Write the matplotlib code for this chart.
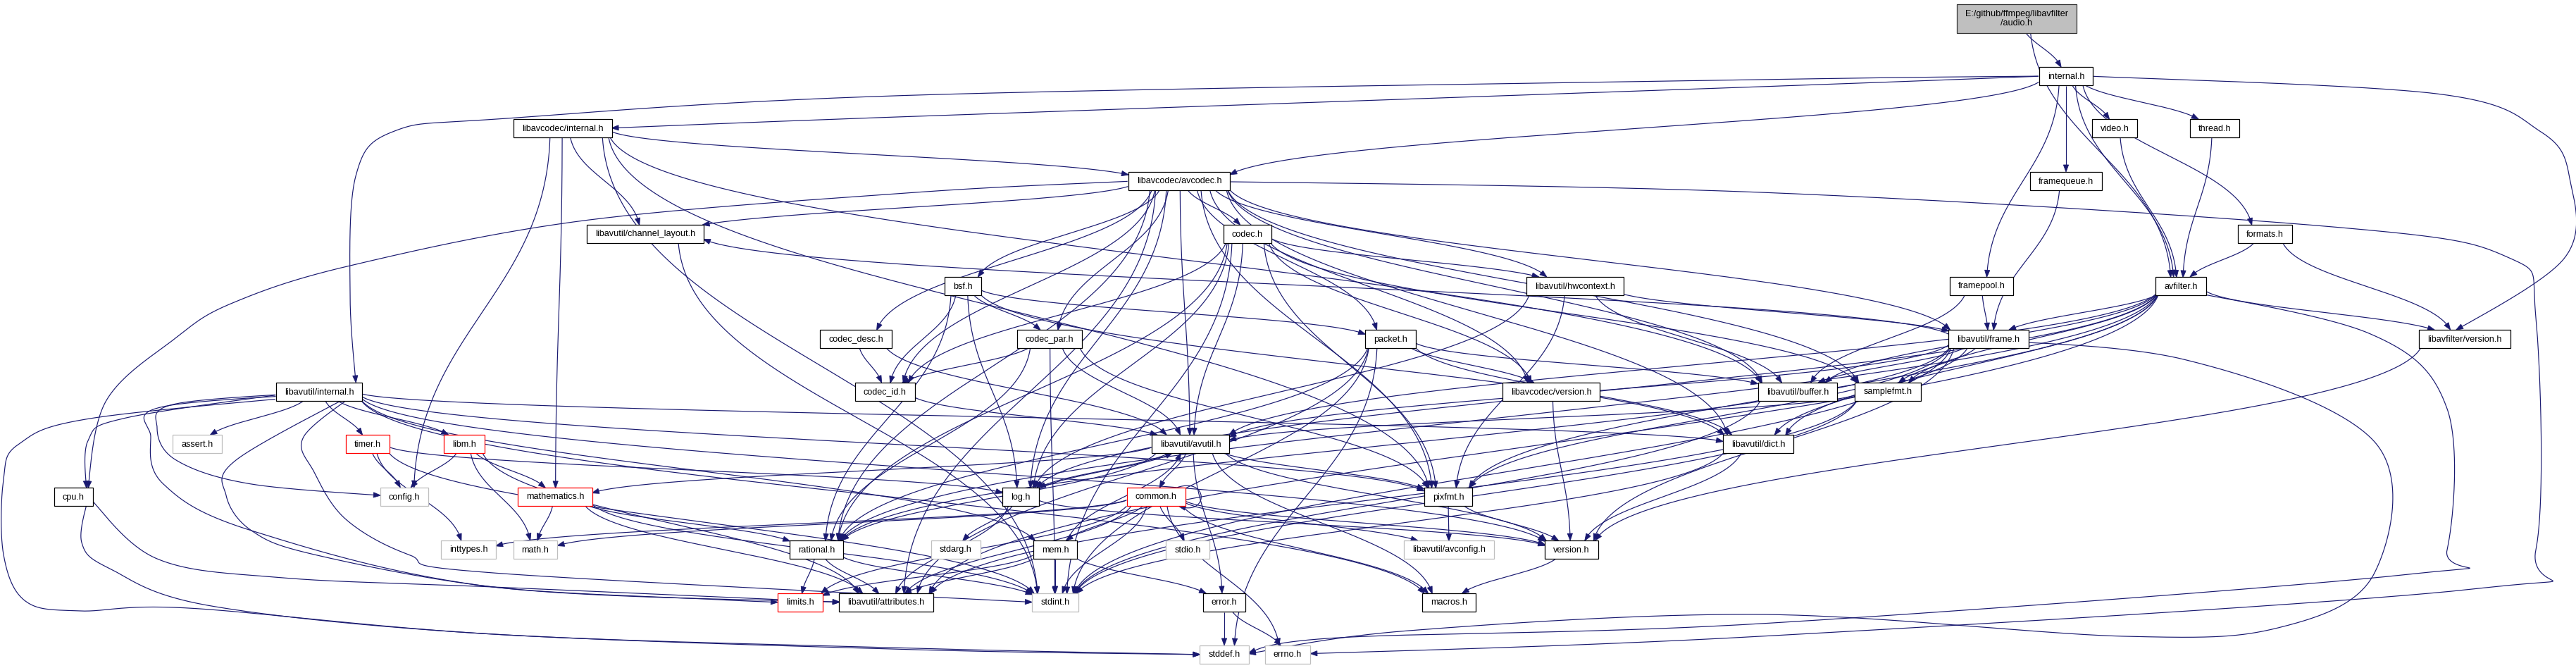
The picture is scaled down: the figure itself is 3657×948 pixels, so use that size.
import numpy as np
import matplotlib
matplotlib.use('Agg')
import matplotlib.pyplot as plt
from matplotlib.patches import Rectangle, Polygon

ROOT = 'E:/github/ffmpeg/libavfilter\n/audio.h'

# include graph: file -> headers it includes
includes = {
    ROOT: ['internal.h', 'avfilter.h'],
    'internal.h': ['libavutil/internal.h', 'libavcodec/avcodec.h', 'libavcodec/internal.h', 'avfilter.h',
                   'formats.h', 'framepool.h', 'framequeue.h', 'thread.h', 'libavfilter/version.h', 'video.h'],
    'video.h': ['avfilter.h'],
    'thread.h': ['avfilter.h'],
    'framequeue.h': ['libavutil/frame.h'],
    'framepool.h': ['libavutil/buffer.h', 'libavutil/frame.h'],
    'formats.h': ['avfilter.h', 'libavfilter/version.h'],
    'avfilter.h': ['stddef.h', 'libavutil/attributes.h', 'libavutil/avutil.h', 'libavutil/buffer.h',
                   'libavutil/dict.h', 'libavutil/frame.h', 'log.h', 'samplefmt.h', 'pixfmt.h', 'rational.h',
                   'libavfilter/version.h'],
    'libavfilter/version.h': ['version.h'],
    'libavcodec/internal.h': ['stdint.h', 'libavutil/buffer.h', 'libavutil/channel_layout.h', 'mathematics.h',
                              'pixfmt.h', 'libavcodec/avcodec.h', 'config.h'],
    'libavcodec/avcodec.h': ['errno.h', 'samplefmt.h', 'libavutil/attributes.h', 'libavutil/avutil.h',
                             'libavutil/buffer.h', 'cpu.h', 'libavutil/channel_layout.h', 'libavutil/dict.h',
                             'libavutil/frame.h', 'libavutil/hwcontext.h', 'log.h', 'pixfmt.h', 'rational.h',
                             'bsf.h', 'codec.h', 'codec_desc.h', 'codec_par.h', 'codec_id.h', 'packet.h',
                             'libavcodec/version.h'],
    'codec.h': ['stdint.h', 'libavutil/avutil.h', 'libavutil/hwcontext.h', 'log.h', 'pixfmt.h', 'rational.h',
                'samplefmt.h', 'codec_id.h', 'libavcodec/version.h'],
    'bsf.h': ['libavutil/dict.h', 'log.h', 'rational.h', 'codec_id.h', 'codec_par.h', 'packet.h'],
    'codec_desc.h': ['libavutil/avutil.h', 'codec_id.h'],
    'codec_par.h': ['stdint.h', 'libavutil/avutil.h', 'rational.h', 'pixfmt.h', 'codec_id.h'],
    'packet.h': ['stddef.h', 'stdint.h', 'libavutil/attributes.h', 'libavutil/buffer.h', 'libavutil/dict.h',
                 'rational.h', 'libavcodec/version.h'],
    'libavutil/hwcontext.h': ['libavutil/buffer.h', 'libavutil/frame.h', 'log.h', 'pixfmt.h'],
    'libavutil/frame.h': ['stddef.h', 'stdint.h', 'libavutil/avutil.h', 'libavutil/buffer.h',
                          'libavutil/channel_layout.h', 'libavutil/dict.h', 'rational.h', 'samplefmt.h',
                          'pixfmt.h', 'version.h'],
    'libavutil/internal.h': ['limits.h', 'stdint.h', 'stddef.h', 'assert.h', 'config.h', 'libavutil/attributes.h',
                             'timer.h', 'cpu.h', 'libavutil/dict.h', 'macros.h', 'mem.h', 'pixfmt.h', 'version.h',
                             'libm.h'],
    'codec_id.h': ['libavutil/avutil.h'],
    'libavcodec/version.h': ['version.h'],
    'libavutil/buffer.h': ['stdint.h'],
    'samplefmt.h': ['stdint.h', 'libavutil/avutil.h', 'libavutil/attributes.h'],
    'libavutil/channel_layout.h': ['stdint.h'],
    'timer.h': ['config.h', 'inttypes.h', 'stdint.h', 'log.h'],
    'libm.h': ['math.h', 'config.h', 'libavutil/attributes.h', 'mathematics.h'],
    'libavutil/avutil.h': ['common.h', 'error.h', 'rational.h', 'version.h', 'macros.h', 'mathematics.h',
                           'log.h', 'pixfmt.h'],
    'libavutil/dict.h': ['stdint.h', 'version.h'],
    'cpu.h': ['stddef.h', 'libavutil/attributes.h'],
    'mathematics.h': ['stdint.h', 'math.h', 'libavutil/attributes.h', 'rational.h'],
    'log.h': ['stdarg.h', 'libavutil/avutil.h', 'libavutil/attributes.h', 'version.h'],
    'common.h': ['errno.h', 'inttypes.h', 'limits.h', 'math.h', 'stdint.h', 'stdio.h', 'libavutil/attributes.h',
                 'macros.h', 'version.h', 'libavutil/avconfig.h', 'mem.h', 'common.h'],
    'pixfmt.h': ['libavutil/avconfig.h', 'version.h'],
    'rational.h': ['stdint.h', 'limits.h', 'libavutil/attributes.h'],
    'mem.h': ['limits.h', 'stdint.h', 'libavutil/attributes.h', 'error.h', 'libavutil/avutil.h'],
    'version.h': ['macros.h'],
    'error.h': ['errno.h', 'stddef.h'],
}

missing_files = ['assert.h', 'config.h', 'inttypes.h', 'math.h', 'stdarg.h', 'stdio.h',
                 'libavutil/avconfig.h', 'stdint.h', 'stddef.h', 'errno.h']
truncated_files = ['timer.h', 'libm.h', 'mathematics.h', 'common.h', 'limits.h']

# box centres (pixels)
layout = {
    ROOT: (2863, 26),
    'internal.h': (2933, 108),
    'libavcodec/internal.h': (799, 182), 'video.h': (3002, 182), 'thread.h': (3144, 182),
    'libavcodec/avcodec.h': (1674, 257), 'framequeue.h': (2933, 257),
    'libavutil/channel_layout.h': (916, 332), 'codec.h': (1771, 332), 'formats.h': (3215, 332),
    'bsf.h': (1367, 406), 'libavutil/hwcontext.h': (2236, 406), 'framepool.h': (2813, 406),
    'avfilter.h': (3096, 406),
    'codec_desc.h': (1215, 481), 'codec_par.h': (1490, 481), 'packet.h': (1974, 481),
    'libavutil/frame.h': (2823, 481), 'libavfilter/version.h': (3499, 481),
    'libavutil/internal.h': (453, 556), 'codec_id.h': (1256, 556), 'libavcodec/version.h': (2202, 556),
    'libavutil/buffer.h': (2552, 556), 'samplefmt.h': (2680, 556),
    'assert.h': (280, 630), 'timer.h': (522, 630), 'libm.h': (659, 630), 'libavutil/avutil.h': (1690, 630),
    'libavutil/dict.h': (2496, 630),
    'cpu.h': (104, 705), 'config.h': (574, 705), 'mathematics.h': (788, 705), 'log.h': (1449, 705),
    'common.h': (1641, 705), 'pixfmt.h': (2056, 705),
    'inttypes.h': (665, 780), 'math.h': (760, 780), 'rational.h': (1159, 780), 'stdarg.h': (1357, 780),
    'mem.h': (1498, 780), 'stdio.h': (1686, 780), 'libavutil/avconfig.h': (2057, 780), 'version.h': (2231, 780),
    'limits.h': (1136, 855), 'libavutil/attributes.h': (1258, 855), 'stdint.h': (1498, 855),
    'error.h': (1738, 855), 'macros.h': (2057, 855),
    'stddef.h': (1738, 929), 'errno.h': (1828, 929),
}

# hand-picked via points for the long detours
routes = {
    ('internal.h', 'libavutil/internal.h'): [(2500, 113), (1300, 135), (720, 168), (560, 186), (505, 250), (497, 420)],
    ('internal.h', 'libavcodec/internal.h'): [(2500, 123), (1300, 165)],
    ('internal.h', 'libavfilter/version.h'): [(3459, 133), (3607, 187), (3648, 253), (3640, 367)],
    ('libavcodec/avcodec.h', 'errno.h'): [(2500, 273), (3312, 322), (3560, 365), (3600, 450), (3600, 780),
                                          (3520, 835), (2500, 903)],
    ('libavcodec/avcodec.h', 'cpu.h'): [(1300, 273), (829, 313), (497, 377), (330, 430), (249, 480), (150, 570)],
    ('libavutil/internal.h', 'stddef.h'): [(134, 593), (27, 630), (5, 680), (5, 787), (36, 853), (112, 867),
                                           (268, 863), (700, 900), (1300, 922)],
    ('libavutil/internal.h', 'cpu.h'): [(179, 593), (125, 625)],
    ('libavutil/internal.h', 'config.h'): [(250, 573), (223, 607), (250, 653), (357, 687)],
    ('libavutil/internal.h', 'limits.h'): [(335, 653), (321, 703), (357, 753), (446, 787), (700, 833), (1000, 850)],
    ('libavutil/internal.h', 'libavutil/attributes.h'): [(232, 577), (214, 620), (232, 687), (357, 753), (700, 833)],
    ('libavutil/internal.h', 'stdint.h'): [(431, 620), (446, 670), (491, 737), (580, 787), (700, 813)],
    ('cpu.h', 'stddef.h'): [(116, 770), (156, 807), (300, 860), (700, 900), (1300, 920)],
    ('cpu.h', 'libavutil/attributes.h'): [(223, 793), (402, 820), (700, 833)],
    ('avfilter.h', 'stddef.h'): [(3363, 473), (3474, 580), (3474, 780), (3420, 815), (2500, 885), (1900, 905)],
    ('libavutil/frame.h', 'stddef.h'): [(3100, 510), (3371, 627), (3371, 813), (3238, 890), (3016, 903),
                                        (2500, 872), (2000, 895)],
}

EDGE = '#191970'

fig = plt.figure(figsize=(36.57, 9.48), dpi=100)
ax = fig.add_axes([0, 0, 1, 1])
ax.set_xlim(0, 3657)
ax.set_ylim(948, 0)
ax.axis('off')

texts = {}
for name, (cx, cy) in layout.items():
    texts[name] = ax.text(cx, cy + 0.5, name, ha='center', va='center', fontsize=9.1,
                          family=['Liberation Sans', 'DejaVu Sans'], linespacing=1.2, zorder=5)
fig.canvas.draw()
renderer = fig.canvas.get_renderer()

boxes = {}
for name, t in texts.items():
    bb = t.get_window_extent(renderer)
    cx, cy = layout[name]
    w = bb.width + 24
    h = 41 if name == ROOT else 26
    boxes[name] = (cx - w / 2, cy - h / 2, cx + w / 2, cy + h / 2)


def cubic(p0, p1, p2, p3, n=400):
    t = np.linspace(0, 1, n)[:, None]
    return (1 - t) ** 3 * p0 + 3 * (1 - t) ** 2 * t * p1 + 3 * (1 - t) * t ** 2 * p2 + t ** 3 * p3


def catmull(points, n=80):
    pts = [points[0]] + points + [points[-1]]
    out = []
    for i in range(1, len(pts) - 2):
        a, b, c, d = pts[i - 1], pts[i], pts[i + 1], pts[i + 2]
        t = np.linspace(0, 1, n, endpoint=False)[:, None]
        out.append(0.5 * (2 * b + (-a + c) * t + (2 * a - 5 * b + 4 * c - d) * t ** 2
                          + (-a + 3 * b - 3 * c + d) * t ** 3))
    out.append(pts[-2][None, :])
    return np.vstack(out)


def resample(pts, step=1.0):
    seg = np.hypot(*np.diff(pts, axis=0).T)
    s = np.concatenate([[0], np.cumsum(seg)])
    q = np.arange(0, s[-1], step)
    return np.column_stack([np.interp(q, s, pts[:, 0]), np.interp(q, s, pts[:, 1])])


def inside(pts, box):
    x0, y0, x1, y1 = box
    return (pts[:, 0] >= x0) & (pts[:, 0] <= x1) & (pts[:, 1] >= y0) & (pts[:, 1] <= y1)


def draw_edge(src, dst):
    sb, tb = boxes[src], boxes[dst]
    scx, scy = layout[src]
    tcx, tcy = layout[dst]
    if src == dst:
        x1, y0, y1 = sb[2], sb[1], sb[3]
        pts = cubic(np.array([x1 - 12, y0]), np.array([x1 + 34, y0 - 16]),
                    np.array([x1 + 34, y1 + 16]), np.array([x1 - 10, y1]))
    else:
        hs = (sb[2] - sb[0]) / 2 - 6
        ht = (tb[2] - tb[0]) / 2 - 8
        p0 = np.array([scx + np.clip((tcx - scx) * 0.08, -hs, hs), scy])
        p3 = np.array([tcx + np.clip((scx - tcx) * 0.06, -ht, ht), tcy])
        if (src, dst) in routes:
            pts = catmull([p0] + [np.array(p, float) for p in routes[(src, dst)]] + [p3])
        else:
            k = 0.45 * (p3[1] - p0[1])
            pts = cubic(p0, p0 + [0, k], p3 - [0, k], p3)
    pts = resample(pts)
    out = np.nonzero(~inside(pts, sb))[0]
    start = out[0]
    hit = np.nonzero(inside(pts[start:], tb))[0]
    end = start + hit[0] if len(hit) else len(pts) - 1
    tip = pts[end]
    back = max(start, end - 10)
    u = tip - pts[back]
    u = u / (np.hypot(*u) + 1e-9)
    base = tip - 10 * u
    nrm = np.array([-u[1], u[0]])
    line = np.vstack([pts[start:back + 1], base])
    ax.plot(line[:, 0], line[:, 1], color=EDGE, lw=0.85, zorder=1, solid_capstyle='butt')
    ax.add_patch(Polygon([tip, base + 3.6 * nrm, base - 3.6 * nrm], closed=True,
                         facecolor=EDGE, edgecolor=EDGE, lw=0.6, zorder=2))


for src, targets in includes.items():
    for dst in targets:
        draw_edge(src, dst)

for name, (x0, y0, x1, y1) in boxes.items():
    if name == ROOT:
        fc, ec = '#bfbfbf', '#333333'
    elif name in missing_files:
        fc, ec = 'white', '#bfbfbf'
    elif name in truncated_files:
        fc, ec = 'white', '#ff0000'
    else:
        fc, ec = 'white', 'black'
    ax.add_patch(Rectangle((x0, y0), x1 - x0, y1 - y0, facecolor=fc, edgecolor=ec, lw=0.9, zorder=3))

fig.savefig('out.png', dpi=100, facecolor='white')
